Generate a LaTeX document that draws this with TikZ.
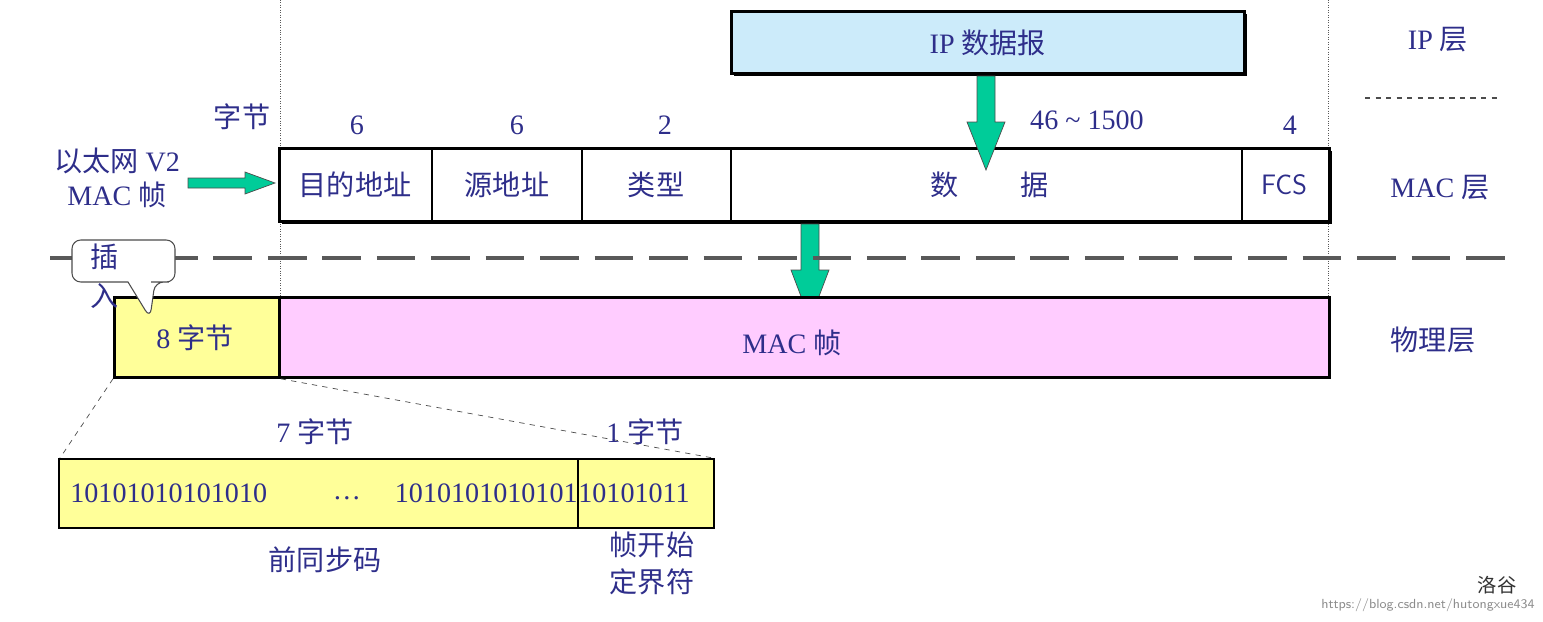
\documentclass[tikz,border=0pt]{standalone}
\usepackage{fontspec}
\setmainfont{Liberation Serif}
\newfontfamily\cjk{Noto Sans CJK SC}
\usetikzlibrary{arrows.meta,shapes.callouts}
\definecolor{txt}{HTML}{2E2E8A}
\definecolor{grn}{HTML}{00CC99}
\definecolor{ipb}{HTML}{CCEBFA}
\definecolor{yel}{HTML}{FFFF99}
\definecolor{pnk}{HTML}{FFCCFF}
\begin{document}
\begin{tikzpicture}[x=0.02cm,y=-0.02cm,
  t/.style={text=txt,font=\fontsize{16}{19}\selectfont,inner sep=0pt,align=center},
  box/.style={draw=black,line width=1.6pt},
  garrow/.style={draw=black!70,line width=0.4pt,fill=grn,-{}}]
\useasboundingbox (0,0) rectangle (1543,622);
% dotted verticals
\draw[densely dotted,gray!70!black] (280,0) -- (280,300);
\draw[densely dotted,gray!70!black] (1328,0) -- (1328,300);
% IP box
\fill[black] (734,14) rectangle (1247,76);
\node[box,fill=ipb,minimum width=513*0.02cm,minimum height=62*0.02cm,anchor=north west,inner sep=0pt] (ip) at (730,10) {};
\node[t] (iptxt) at (ip.center) {IP {\cjk 数据报}};
% layer labels
\node[t] (lip) at (1438,40) {IP {\cjk 层}};
\draw[dashed,line width=0.8pt,gray!60!black] (1365,98) -- (1500,98);
\node[t] (lmac) at (1440,188) {MAC {\cjk 层}};
\node[t] (lphy) at (1433,340) {\cjk 物理层};
% byte counts
\node[t] (zj) at (242,117) {\cjk 字节};
\node[t] (n1) at (357,125) {6};
\node[t] (n2) at (517,125) {6};
\node[t] (n3) at (665,125) {2};
\node[t] (n4) at (1087,120) {46 \textasciitilde{} 1500};
\node[t] (n5) at (1290,125) {4};
% MAC frame
\fill[black] (282,151) rectangle (1332,224);
\node[box,fill=white,minimum width=1050*0.02cm,minimum height=73*0.02cm,anchor=north west,inner sep=0pt] (mac) at (278,147) {};
\foreach \x in {432,582,731,1242} \draw[line width=0.6pt] (\x,147) -- (\x,220);
\node[t] (f1) at (355,185) {\cjk 目的地址};
\node[t] (f2) at (507,185) {\cjk 源地址};
\node[t] (f3) at (656,185) {\cjk 类型};
\node[t] (f4) at (990,185) {\cjk 数\hspace{2.2em}据};
\node[t] (f5) at (1284,185) {\sffamily FCS};
\node[t] (eth) at (117,178) {{\cjk 以太网} V2\\MAC {\cjk 帧}};
% green arrows
\draw[garrow] (188,178) -- (245,178) -- (245,172) -- (275,183) -- (245,194) -- (245,188) -- (188,188) -- cycle;
\draw[garrow] (977,76) -- (995,76) -- (995,122) -- (1005,122) -- (986,170) -- (967,122) -- (977,122) -- cycle;
\draw[garrow] (801,224) -- (819,224) -- (819,270) -- (829,270) -- (810,320) -- (791,270) -- (801,270) -- cycle;
% thick dashed separator
\draw[dash pattern=on 22pt off 9pt,line width=2.2pt,gray!70!black] (50,258) -- (1510,258);
% physical layer
\node[box,fill=yel,minimum width=165*0.02cm,minimum height=80*0.02cm,anchor=north west,inner sep=0pt] (pre) at (113,296) {};
\node[box,fill=pnk,minimum width=1050*0.02cm,minimum height=80*0.02cm,anchor=north west,inner sep=0pt] (phy) at (278,296) {};
\node[t] (pretxt) at (195,338) {8 {\cjk 字节}};
\node[t] (phytxt) at (792,343) {MAC {\cjk 帧}};
% callout
\draw[fill=white,draw=black!70,line width=0.6pt,rounded corners=5pt] (72,240) -- (175,240) -- (175,282) -- (160,282) -- (155,282) -- (150,318) {[sharp corners] -- (128,282)} -- (72,282) -- cycle;
\node[t,anchor=north west] (cal) at (90,244) {\cjk 插};
\node[t,anchor=north west] (cal2) at (90,283) {\cjk 入};
% zoom lines
\coordinate (zl) at (60,458); \coordinate (zr) at (713,458);
\draw[dashed,gray!60!black] (pre.south west) -- (zl);
\draw[dashed,gray!60!black] (pre.south east) -- (zr);
% preamble detail
\node[t] (s7) at (315,432) {7 {\cjk 字节}};
\node[t] (s1) at (645,432) {1 {\cjk 字节}};
\node[draw=black,line width=1.4pt,fill=yel,minimum width=655*0.02cm,minimum height=69*0.02cm,anchor=north west,inner sep=0pt] (bits) at (58,458) {};
\draw[line width=0.6pt] (578,458) -- (578,527);
\node[t,anchor=west] (b1) at (70,493) {10101010101010};
\node[t] (b2) at (347,498) {\ldots};
\node[t,anchor=east] (b3) at (578,493) {1010101010101};
\node[t,anchor=west] (b4) at (578,493) {10101011};
\node[t,font=\fontsize{16}{19}\selectfont\cjk] (qt) at (325,560) {前同步码};
\node[t,font=\fontsize{16}{21}\selectfont\cjk] (sfd) at (652,563) {帧开始\\定界符};
% watermark
\node[inner sep=0pt,font=\fontsize{11}{13}\selectfont\cjk,text=black!80] (wm) at (1497,585) {洛谷};
\node[inner sep=0pt,font=\fontsize{7.5}{9}\selectfont\sffamily,text=black!45,anchor=east] (url) at (1535,605) {https://blog.csdn.net/hutongxue434};
\end{tikzpicture}
\end{document}
